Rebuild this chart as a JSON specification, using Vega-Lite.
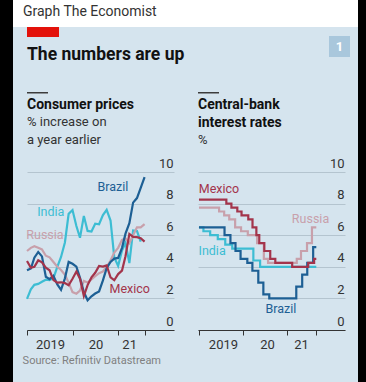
{
  "$schema": "https://vega.github.io/schema/vega-lite/v6.json",
  "background": "#d5e4ee",
  "padding": 0,
  "spacing": 0,
  "config": {
    "view": {"stroke": null},
    "font": "Roboto",
    "title": {"font": "Roboto", "subtitleFont": "Roboto"},
    "axis": {"labelFont": "Roboto", "labelOverlap": false},
    "text": {"font": "Roboto"}
  },
  "datasets": {
    "cpi": [
      {"c":"India","d":"2019-01-01","v":1.97},{"c":"India","d":"2019-02-01","v":2.57},{"c":"India","d":"2019-03-01","v":2.86},{"c":"India","d":"2019-04-01","v":2.92},{"c":"India","d":"2019-05-01","v":3.05},{"c":"India","d":"2019-06-01","v":3.18},{"c":"India","d":"2019-07-01","v":3.15},{"c":"India","d":"2019-08-01","v":3.28},{"c":"India","d":"2019-09-01","v":3.99},{"c":"India","d":"2019-10-01","v":4.62},{"c":"India","d":"2019-11-01","v":5.54},{"c":"India","d":"2019-12-01","v":7.35},
      {"c":"India","d":"2020-01-01","v":7.59},{"c":"India","d":"2020-02-01","v":6.58},{"c":"India","d":"2020-03-01","v":5.84},{"c":"India","d":"2020-04-01","v":7.22},{"c":"India","d":"2020-05-01","v":6.27},{"c":"India","d":"2020-06-01","v":6.23},{"c":"India","d":"2020-07-01","v":6.73},{"c":"India","d":"2020-08-01","v":6.69},{"c":"India","d":"2020-09-01","v":7.27},{"c":"India","d":"2020-10-01","v":7.61},{"c":"India","d":"2020-11-01","v":6.93},{"c":"India","d":"2020-12-01","v":4.59},
      {"c":"India","d":"2021-01-01","v":4.06},{"c":"India","d":"2021-02-01","v":5.03},{"c":"India","d":"2021-03-01","v":5.52},{"c":"India","d":"2021-04-01","v":4.23},{"c":"India","d":"2021-05-01","v":6.30},{"c":"India","d":"2021-06-01","v":6.26},{"c":"India","d":"2021-07-01","v":5.59},
      {"c":"Russia","d":"2019-01-01","v":5.0},{"c":"Russia","d":"2019-02-01","v":5.2},{"c":"Russia","d":"2019-03-01","v":5.3},{"c":"Russia","d":"2019-04-01","v":5.2},{"c":"Russia","d":"2019-05-01","v":5.1},{"c":"Russia","d":"2019-06-01","v":4.7},{"c":"Russia","d":"2019-07-01","v":4.6},{"c":"Russia","d":"2019-08-01","v":4.3},{"c":"Russia","d":"2019-09-01","v":4.0},{"c":"Russia","d":"2019-10-01","v":3.8},{"c":"Russia","d":"2019-11-01","v":3.5},{"c":"Russia","d":"2019-12-01","v":3.0},
      {"c":"Russia","d":"2020-01-01","v":2.4},{"c":"Russia","d":"2020-02-01","v":2.3},{"c":"Russia","d":"2020-03-01","v":2.5},{"c":"Russia","d":"2020-04-01","v":3.1},{"c":"Russia","d":"2020-05-01","v":3.0},{"c":"Russia","d":"2020-06-01","v":3.2},{"c":"Russia","d":"2020-07-01","v":3.4},{"c":"Russia","d":"2020-08-01","v":3.6},{"c":"Russia","d":"2020-09-01","v":3.7},{"c":"Russia","d":"2020-10-01","v":4.0},{"c":"Russia","d":"2020-11-01","v":4.4},{"c":"Russia","d":"2020-12-01","v":4.9},
      {"c":"Russia","d":"2021-01-01","v":5.2},{"c":"Russia","d":"2021-02-01","v":5.7},{"c":"Russia","d":"2021-03-01","v":5.8},{"c":"Russia","d":"2021-04-01","v":5.5},{"c":"Russia","d":"2021-05-01","v":6.0},{"c":"Russia","d":"2021-06-01","v":6.5},{"c":"Russia","d":"2021-07-01","v":6.5},{"c":"Russia","d":"2021-08-01","v":6.7},
      {"c":"Brazil","d":"2019-01-01","v":3.78},{"c":"Brazil","d":"2019-02-01","v":3.89},{"c":"Brazil","d":"2019-03-01","v":4.58},{"c":"Brazil","d":"2019-04-01","v":4.94},{"c":"Brazil","d":"2019-05-01","v":4.66},{"c":"Brazil","d":"2019-06-01","v":3.37},{"c":"Brazil","d":"2019-07-01","v":3.22},{"c":"Brazil","d":"2019-08-01","v":3.43},{"c":"Brazil","d":"2019-09-01","v":2.89},{"c":"Brazil","d":"2019-10-01","v":2.54},{"c":"Brazil","d":"2019-11-01","v":3.27},{"c":"Brazil","d":"2019-12-01","v":4.31},
      {"c":"Brazil","d":"2020-01-01","v":4.19},{"c":"Brazil","d":"2020-02-01","v":4.01},{"c":"Brazil","d":"2020-03-01","v":3.30},{"c":"Brazil","d":"2020-04-01","v":2.40},{"c":"Brazil","d":"2020-05-01","v":1.88},{"c":"Brazil","d":"2020-06-01","v":2.13},{"c":"Brazil","d":"2020-07-01","v":2.31},{"c":"Brazil","d":"2020-08-01","v":2.44},{"c":"Brazil","d":"2020-09-01","v":3.14},{"c":"Brazil","d":"2020-10-01","v":3.92},{"c":"Brazil","d":"2020-11-01","v":4.31},{"c":"Brazil","d":"2020-12-01","v":4.52},
      {"c":"Brazil","d":"2021-01-01","v":4.56},{"c":"Brazil","d":"2021-02-01","v":5.20},{"c":"Brazil","d":"2021-03-01","v":6.10},{"c":"Brazil","d":"2021-04-01","v":6.76},{"c":"Brazil","d":"2021-05-01","v":8.06},{"c":"Brazil","d":"2021-06-01","v":8.35},{"c":"Brazil","d":"2021-07-01","v":8.99},{"c":"Brazil","d":"2021-08-01","v":9.68},
      {"c":"Mexico","d":"2019-01-01","v":4.37},{"c":"Mexico","d":"2019-02-01","v":3.94},{"c":"Mexico","d":"2019-03-01","v":4.00},{"c":"Mexico","d":"2019-04-01","v":4.41},{"c":"Mexico","d":"2019-05-01","v":4.28},{"c":"Mexico","d":"2019-06-01","v":3.95},{"c":"Mexico","d":"2019-07-01","v":3.78},{"c":"Mexico","d":"2019-08-01","v":3.16},{"c":"Mexico","d":"2019-09-01","v":3.00},{"c":"Mexico","d":"2019-10-01","v":3.02},{"c":"Mexico","d":"2019-11-01","v":2.97},{"c":"Mexico","d":"2019-12-01","v":2.83},
      {"c":"Mexico","d":"2020-01-01","v":3.24},{"c":"Mexico","d":"2020-02-01","v":3.70},{"c":"Mexico","d":"2020-03-01","v":3.25},{"c":"Mexico","d":"2020-04-01","v":2.15},{"c":"Mexico","d":"2020-05-01","v":2.84},{"c":"Mexico","d":"2020-06-01","v":3.33},{"c":"Mexico","d":"2020-07-01","v":3.62},{"c":"Mexico","d":"2020-08-01","v":4.05},{"c":"Mexico","d":"2020-09-01","v":4.01},{"c":"Mexico","d":"2020-10-01","v":4.09},{"c":"Mexico","d":"2020-11-01","v":3.33},{"c":"Mexico","d":"2020-12-01","v":3.15},
      {"c":"Mexico","d":"2021-01-01","v":3.54},{"c":"Mexico","d":"2021-02-01","v":3.76},{"c":"Mexico","d":"2021-03-01","v":4.67},{"c":"Mexico","d":"2021-04-01","v":6.08},{"c":"Mexico","d":"2021-05-01","v":5.89},{"c":"Mexico","d":"2021-06-01","v":5.88},{"c":"Mexico","d":"2021-07-01","v":5.81},{"c":"Mexico","d":"2021-08-01","v":5.59}
    ],
    "cpiLabels": [
      {"c":"Brazil","d":"2020-11-20","v":9.03},
      {"c":"India","d":"2019-07-11","v":7.47},
      {"c":"Russia","d":"2019-05-25","v":6.01},
      {"c":"Mexico","d":"2021-04-04","v":2.58}
    ],
    "rates": [
      {"c":"India","d":"2019-01-01","v":6.5},{"c":"India","d":"2019-02-07","v":6.25},{"c":"India","d":"2019-04-04","v":6.0},{"c":"India","d":"2019-06-06","v":5.75},{"c":"India","d":"2019-08-07","v":5.4},{"c":"India","d":"2019-10-04","v":5.15},{"c":"India","d":"2020-03-27","v":4.4},{"c":"India","d":"2020-05-22","v":4.0},{"c":"India","d":"2021-08-31","v":4.0},
      {"c":"Russia","d":"2019-01-01","v":7.75},{"c":"Russia","d":"2019-06-17","v":7.5},{"c":"Russia","d":"2019-07-29","v":7.25},{"c":"Russia","d":"2019-09-09","v":7.0},{"c":"Russia","d":"2019-10-28","v":6.5},{"c":"Russia","d":"2019-12-16","v":6.25},{"c":"Russia","d":"2020-02-10","v":6.0},{"c":"Russia","d":"2020-04-27","v":5.5},{"c":"Russia","d":"2020-06-22","v":4.5},{"c":"Russia","d":"2020-07-27","v":4.25},{"c":"Russia","d":"2021-03-22","v":4.5},{"c":"Russia","d":"2021-04-26","v":5.0},{"c":"Russia","d":"2021-06-15","v":5.5},{"c":"Russia","d":"2021-07-26","v":6.5},{"c":"Russia","d":"2021-08-31","v":6.5},
      {"c":"Brazil","d":"2019-01-01","v":6.5},{"c":"Brazil","d":"2019-08-01","v":6.0},{"c":"Brazil","d":"2019-09-19","v":5.5},{"c":"Brazil","d":"2019-10-31","v":5.0},{"c":"Brazil","d":"2019-12-12","v":4.5},{"c":"Brazil","d":"2020-02-06","v":4.25},{"c":"Brazil","d":"2020-03-19","v":3.75},{"c":"Brazil","d":"2020-05-07","v":3.0},{"c":"Brazil","d":"2020-06-18","v":2.25},{"c":"Brazil","d":"2020-08-06","v":2.0},{"c":"Brazil","d":"2021-03-18","v":2.75},{"c":"Brazil","d":"2021-05-06","v":3.5},{"c":"Brazil","d":"2021-06-17","v":4.25},{"c":"Brazil","d":"2021-08-05","v":5.25},{"c":"Brazil","d":"2021-08-31","v":5.25},
      {"c":"Mexico","d":"2019-01-01","v":8.25},{"c":"Mexico","d":"2019-08-16","v":8.0},{"c":"Mexico","d":"2019-09-27","v":7.75},{"c":"Mexico","d":"2019-11-15","v":7.5},{"c":"Mexico","d":"2019-12-20","v":7.25},{"c":"Mexico","d":"2020-02-14","v":7.0},{"c":"Mexico","d":"2020-03-20","v":6.5},{"c":"Mexico","d":"2020-04-21","v":6.0},{"c":"Mexico","d":"2020-05-15","v":5.5},{"c":"Mexico","d":"2020-06-26","v":5.0},{"c":"Mexico","d":"2020-08-14","v":4.5},{"c":"Mexico","d":"2020-09-25","v":4.25},{"c":"Mexico","d":"2021-02-12","v":4.0},{"c":"Mexico","d":"2021-06-25","v":4.25},{"c":"Mexico","d":"2021-08-13","v":4.5},{"c":"Mexico","d":"2021-08-31","v":4.5}
    ],
    "rateLabels": [
      {"c":"Mexico","d":"2019-06-16","v":8.94},
      {"c":"Russia","d":"2021-07-14","v":7.04},
      {"c":"India","d":"2019-04-20","v":5.03},
      {"c":"Brazil","d":"2020-11-11","v":1.35}
    ],
    "none": [],
    "one": [{"t":"1"}]
  },
  "hconcat": [
    {"width": 13, "height": 382, "view": {"fill": "#000000", "stroke": null}, "data": {"name": "none"}, "mark": "point"},
    {
      "spacing": 0,
      "vconcat": [
        {"width": 345, "height": 27, "view": {"fill": "#ffffff", "stroke": null}, "data": {"name": "none"}, "mark": "point",
         "title": {"text": "Graph The Economist", "orient": "top", "anchor": "start", "frame": "group", "offset": -19, "dx": 10, "fontSize": 14, "fontWeight": "normal", "color": "#333333"}},
        {
          "spacing": 8,
          "hconcat": [
            {"width": 1, "height": 1, "view": {"stroke": null}, "data": {"name": "none"}, "mark": "point"},
            {
              "spacing": 28,
              "vconcat": [
                {
                  "bounds": "flush",
                  "spacing": 270,
                  "hconcat": [
                    {"width": 32, "height": 10, "view": {"fill": "#e3120b", "stroke": null}, "data": {"name": "none"}, "mark": "point",
                     "title": {"text": "The numbers are up", "orient": "bottom", "anchor": "start", "frame": "group", "offset": 9, "fontSize": 17.5, "fontWeight": "bold", "color": "#121212"}},
                    {
                      "spacing": 8,
                      "vconcat": [
                        {"width": 21, "height": 1, "view": {"stroke": null}, "data": {"name": "none"}, "mark": "point"},
                        {"width": 21, "height": 21, "view": {"fill": "#a9c7dc", "stroke": null}, "data": {"name": "one"},
                         "mark": {"type": "text", "color": "#ffffff", "fontWeight": "bold", "fontSize": 13, "align": "center", "baseline": "middle"},
                         "encoding": {"text": {"field": "t", "type": "nominal"}}}
                      ]
                    }
                  ]
                },
                {
                  "spacing": 20,
                  "title": {"text": "Source: Refinitiv Datastream", "orient": "bottom", "anchor": "start", "offset": 4, "fontSize": 11, "fontWeight": "normal", "color": "#808080"},
                  "hconcat": [
                    {
                      "spacing": 4,
                      "vconcat": [
                        {"width": 21, "height": 1.5, "view": {"fill": "#3c3c3c", "stroke": null}, "data": {"name": "none"}, "mark": "point"},
                        {
                          "width": 147, "height": 158,
                          "title": {"text": "Consumer prices", "subtitle": ["% increase on", "a year earlier"], "anchor": "start", "frame": "group", "fontSize": 14, "fontWeight": "bold", "color": "#111111", "subtitleFontSize": 13, "subtitleColor": "#333333", "lineHeight": 18, "subtitleLineHeight": 18, "subtitlePadding": 4, "offset": 10},
                          "layer": [
                            {
                              "data": {"name": "cpi"},
                              "mark": {"type": "line", "strokeWidth": 2.2},
                              "encoding": {
                                "x": {"field": "d", "type": "temporal",
                                  "scale": {"type": "utc", "domain": [{"year": 2019, "month": 1, "date": 1, "utc": true}, {"year": 2022, "month": 3, "date": 25, "utc": true}]},
                                  "axis": {"title": null, "values": [{"year": 2019, "month": 1, "date": 1, "utc": true}, {"year": 2020, "month": 1, "date": 1, "utc": true}, {"year": 2021, "month": 1, "date": 1, "utc": true}, {"year": 2021, "month": 8, "date": 1, "utc": true}], "tickCount": 10,
                                    "domain": true, "domainColor": "#333333", "domainWidth": 1, "ticks": true, "tickColor": "#333333", "tickSize": 5, "tickWidth": 1, "grid": false,
                                    "labelExpr": "utcyear(datum.value) == 2019 ? '2019' : (utcmonth(datum.value) == 0 ? utcFormat(datum.value, '%y') : '')",
                                    "labelFlush": false, "labelOverlap": false, "labelFontSize": 13, "labelColor": "#333333", "labelPadding": 3,
                                    "labelOffset": {"condition": {"test": "utcyear(datum.value) == 2021", "value": 11}, "value": 23}}},
                                "y": {"field": "v", "type": "quantitative", "scale": {"domain": [0, 10], "nice": false},
                                  "axis": {"title": null, "orient": "right", "values": [0, 2, 4, 6, 8, 10], "tickCount": 12, "domain": false, "ticks": false, "tickSize": 0, "grid": true, "gridColor": "#b4c4cf", "gridWidth": 1,
                                    "labelAlign": "right", "labelBaseline": "bottom", "labelPadding": -1, "labelOffset": -2, "labelFontSize": 13, "labelColor": "#333333", "labelBound": false, "labelOverlap": false}},
                                "color": {"field": "c", "type": "nominal", "scale": {"domain": ["Brazil", "India", "Russia", "Mexico"], "range": ["#1d5f94", "#3dbdd3", "#c8a0ab", "#a3344b"]}, "legend": null}
                              }
                            },
                            {
                              "data": {"name": "cpiLabels"},
                              "mark": {"type": "text", "fontSize": 12.5, "align": "center", "baseline": "middle"},
                              "encoding": {
                                "x": {"field": "d", "type": "temporal"},
                                "y": {"field": "v", "type": "quantitative"},
                                "text": {"field": "c", "type": "nominal"},
                                "color": {"field": "c", "type": "nominal", "legend": null}
                              }
                            }
                          ]
                        }
                      ]
                    },
                    {
                      "spacing": 4,
                      "vconcat": [
                        {"width": 21, "height": 1.5, "view": {"fill": "#3c3c3c", "stroke": null}, "data": {"name": "none"}, "mark": "point"},
                        {
                          "width": 147, "height": 158,
                          "title": {"text": ["Central-bank", "interest rates"], "subtitle": "%", "anchor": "start", "frame": "group", "fontSize": 14, "fontWeight": "bold", "color": "#111111", "subtitleFontSize": 13, "subtitleColor": "#333333", "lineHeight": 18, "subtitleLineHeight": 18, "subtitlePadding": 4, "offset": 10},
                          "layer": [
                            {
                              "data": {"name": "rates"},
                              "mark": {"type": "line", "strokeWidth": 2.2, "interpolate": "step-after"},
                              "encoding": {
                                "x": {"field": "d", "type": "temporal",
                                  "scale": {"type": "utc", "domain": [{"year": 2018, "month": 12, "date": 24, "utc": true}, {"year": 2022, "month": 4, "date": 26, "utc": true}]},
                                  "axis": {"title": null, "values": [{"year": 2019, "month": 1, "date": 1, "utc": true}, {"year": 2020, "month": 1, "date": 1, "utc": true}, {"year": 2021, "month": 1, "date": 1, "utc": true}, {"year": 2021, "month": 9, "date": 1, "utc": true}], "tickCount": 10,
                                    "domain": true, "domainColor": "#333333", "domainWidth": 1, "ticks": true, "tickColor": "#333333", "tickSize": 5, "tickWidth": 1, "grid": false,
                                    "labelExpr": "utcyear(datum.value) == 2019 ? '2019' : (utcmonth(datum.value) == 0 ? utcFormat(datum.value, '%y') : '')",
                                    "labelFlush": false, "labelOverlap": false, "labelFontSize": 13, "labelColor": "#333333", "labelPadding": 3,
                                    "labelOffset": {"condition": {"test": "utcyear(datum.value) == 2021", "value": 14}, "value": 24}}},
                                "y": {"field": "v", "type": "quantitative", "scale": {"domain": [0, 10], "nice": false},
                                  "axis": {"title": null, "orient": "right", "values": [0, 2, 4, 6, 8, 10], "tickCount": 12, "domain": false, "ticks": false, "tickSize": 0, "grid": true, "gridColor": "#b4c4cf", "gridWidth": 1,
                                    "labelAlign": "right", "labelBaseline": "bottom", "labelPadding": -1, "labelOffset": -2, "labelFontSize": 13, "labelColor": "#333333", "labelBound": false, "labelOverlap": false}},
                                "color": {"field": "c", "type": "nominal", "scale": {"domain": ["Brazil", "India", "Russia", "Mexico"], "range": ["#1d5f94", "#3dbdd3", "#c8a0ab", "#a3344b"]}, "legend": null}
                              }
                            },
                            {
                              "data": {"name": "rateLabels"},
                              "mark": {"type": "text", "fontSize": 12.5, "align": "center", "baseline": "middle"},
                              "encoding": {
                                "x": {"field": "d", "type": "temporal"},
                                "y": {"field": "v", "type": "quantitative"},
                                "text": {"field": "c", "type": "nominal"},
                                "color": {"field": "c", "type": "nominal", "legend": null}
                              }
                            }
                          ]
                        }
                      ]
                    }
                  ]
                }
              ]
            }
          ]
        }
      ]
    },
    {"width": 8, "height": 382, "view": {"fill": "#000000", "stroke": null}, "data": {"name": "none"}, "mark": "point"}
  ]
}
